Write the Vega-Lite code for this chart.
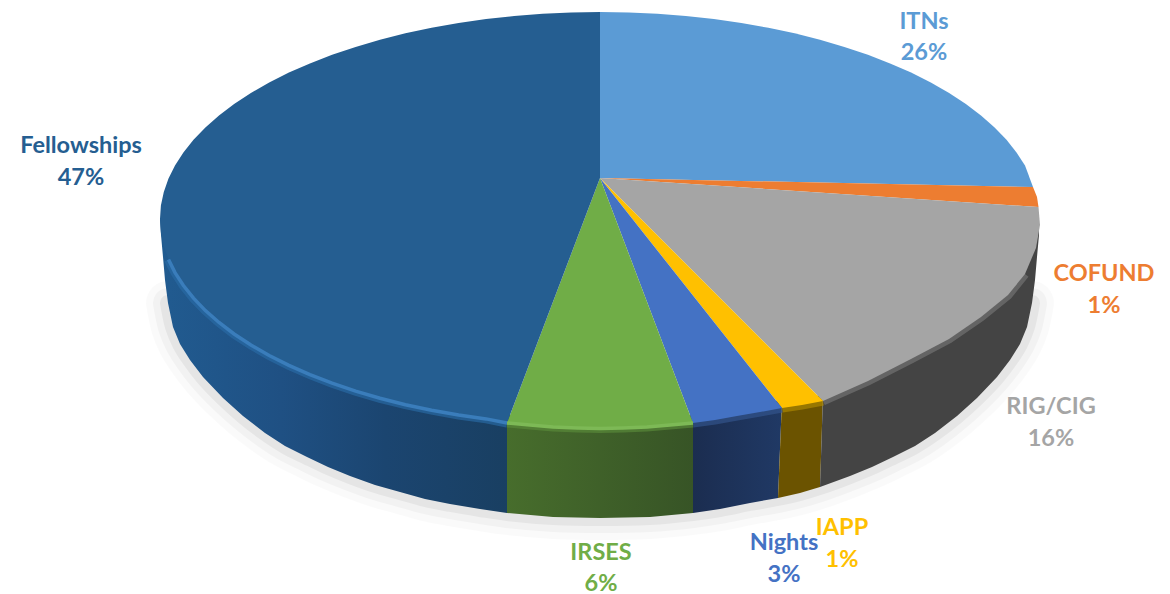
{"$schema":"https://vega.github.io/schema/vega-lite/v6.json","width":1170,"height":594,"autosize":"none","padding":0,"background":"white","view":{"stroke":null},
"datasets":{
"faces":[
{"slice":"ITNs","i":0,"x":600,"y":178},{"slice":"ITNs","i":1,"x":600,"y":12},{"slice":"ITNs","i":1.5,"x":628.8,"y":12.4},{"slice":"ITNs","i":2,"x":657.4,"y":13.8},{"slice":"ITNs","i":2.5,"x":685.8,"y":16},{"slice":"ITNs","i":3,"x":713.9,"y":19.1},{"slice":"ITNs","i":3.5,"x":741.4,"y":23},{"slice":"ITNs","i":4,"x":768.4,"y":27.8},{"slice":"ITNs","i":4.5,"x":794.6,"y":33.3},{"slice":"ITNs","i":5,"x":820,"y":39.7},{"slice":"ITNs","i":5.5,"x":844.4,"y":46.9},{"slice":"ITNs","i":6,"x":867.9,"y":54.8},{"slice":"ITNs","i":6.5,"x":890.1,"y":63.4},{"slice":"ITNs","i":7,"x":911.1,"y":72.6},{"slice":"ITNs","i":7.5,"x":930.8,"y":82.5},{"slice":"ITNs","i":8,"x":949.1,"y":93},{"slice":"ITNs","i":8.5,"x":965.9,"y":104},{"slice":"ITNs","i":9,"x":981,"y":115.5},{"slice":"ITNs","i":9.5,"x":994.6,"y":127.4},{"slice":"ITNs","i":10,"x":1006.5,"y":139.8},{"slice":"ITNs","i":10.5,"x":1016.5,"y":152.5},{"slice":"ITNs","i":11,"x":1025,"y":165.4},{"slice":"ITNs","i":12,"x":1033,"y":187},
{"slice":"COFUND","i":0,"x":600,"y":178},{"slice":"COFUND","i":1,"x":1033,"y":187},{"slice":"COFUND","i":2,"x":1037,"y":197},{"slice":"COFUND","i":3,"x":1038.5,"y":207},
{"slice":"RIG/CIG","i":0,"x":600,"y":178},{"slice":"RIG/CIG","i":1,"x":1038.5,"y":207},{"slice":"RIG/CIG","i":2,"x":1040,"y":225},{"slice":"RIG/CIG","i":3,"x":1036,"y":248},{"slice":"RIG/CIG","i":4,"x":1025,"y":274},{"slice":"RIG/CIG","i":5,"x":1008,"y":295},{"slice":"RIG/CIG","i":6,"x":981,"y":317},{"slice":"RIG/CIG","i":7,"x":949,"y":339},{"slice":"RIG/CIG","i":8,"x":911,"y":359},{"slice":"RIG/CIG","i":9,"x":868,"y":381},{"slice":"RIG/CIG","i":10,"x":823,"y":401},
{"slice":"IAPP","i":0,"x":600,"y":178},{"slice":"IAPP","i":1,"x":823,"y":401},{"slice":"IAPP","i":2,"x":802,"y":405},{"slice":"IAPP","i":3,"x":782,"y":408},
{"slice":"Nights","i":0,"x":600,"y":178},{"slice":"Nights","i":1,"x":782,"y":408},{"slice":"Nights","i":2,"x":760,"y":412},{"slice":"Nights","i":3,"x":737,"y":416},{"slice":"Nights","i":4,"x":715,"y":420},{"slice":"Nights","i":5,"x":693,"y":423},
{"slice":"IRSES","i":0,"x":600,"y":178},{"slice":"IRSES","i":1,"x":693,"y":423},{"slice":"IRSES","i":2,"x":670,"y":425},{"slice":"IRSES","i":3,"x":647,"y":427},{"slice":"IRSES","i":4,"x":623,"y":428},{"slice":"IRSES","i":5,"x":600,"y":428.5},{"slice":"IRSES","i":6,"x":577,"y":428},{"slice":"IRSES","i":7,"x":553,"y":427},{"slice":"IRSES","i":8,"x":530,"y":425},{"slice":"IRSES","i":9,"x":507,"y":423},
{"slice":"Fellowships","i":0,"x":600,"y":178},{"slice":"Fellowships","i":1,"x":507,"y":423},{"slice":"Fellowships","i":2,"x":486.1,"y":418.9},{"slice":"Fellowships","i":2.5,"x":458.6,"y":415},{"slice":"Fellowships","i":3,"x":431.6,"y":410.2},{"slice":"Fellowships","i":3.5,"x":405.4,"y":404.7},{"slice":"Fellowships","i":4,"x":380,"y":398.3},{"slice":"Fellowships","i":4.5,"x":355.6,"y":391.1},{"slice":"Fellowships","i":5,"x":332.1,"y":383.2},{"slice":"Fellowships","i":5.5,"x":309.9,"y":374.6},{"slice":"Fellowships","i":6,"x":288.9,"y":365.4},{"slice":"Fellowships","i":6.5,"x":269.2,"y":355.5},{"slice":"Fellowships","i":7,"x":250.9,"y":345},{"slice":"Fellowships","i":7.5,"x":234.1,"y":334},{"slice":"Fellowships","i":8,"x":219,"y":322.5},{"slice":"Fellowships","i":8.5,"x":205.4,"y":310.6},{"slice":"Fellowships","i":9,"x":193.5,"y":298.2},{"slice":"Fellowships","i":9.5,"x":183.4,"y":285.5},{"slice":"Fellowships","i":10,"x":175,"y":272.6},{"slice":"Fellowships","i":10.5,"x":168.5,"y":259.4},{"slice":"Fellowships","i":11,"x":163.8,"y":246},{"slice":"Fellowships","i":11.5,"x":160.9,"y":232.5},{"slice":"Fellowships","i":12,"x":160,"y":219},{"slice":"Fellowships","i":12.5,"x":160.9,"y":205.5},{"slice":"Fellowships","i":13,"x":163.8,"y":192},{"slice":"Fellowships","i":13.5,"x":168.5,"y":178.6},{"slice":"Fellowships","i":14,"x":175,"y":165.4},{"slice":"Fellowships","i":14.5,"x":183.4,"y":152.5},{"slice":"Fellowships","i":15,"x":193.5,"y":139.8},{"slice":"Fellowships","i":15.5,"x":205.4,"y":127.4},{"slice":"Fellowships","i":16,"x":219,"y":115.5},{"slice":"Fellowships","i":16.5,"x":234.1,"y":104},{"slice":"Fellowships","i":17,"x":250.9,"y":93},{"slice":"Fellowships","i":17.5,"x":269.2,"y":82.5},{"slice":"Fellowships","i":18,"x":288.9,"y":72.6},{"slice":"Fellowships","i":18.5,"x":309.9,"y":63.4},{"slice":"Fellowships","i":19,"x":332.1,"y":54.8},{"slice":"Fellowships","i":19.5,"x":355.6,"y":46.9},{"slice":"Fellowships","i":20,"x":380,"y":39.7},{"slice":"Fellowships","i":20.5,"x":405.4,"y":33.3},{"slice":"Fellowships","i":21,"x":431.6,"y":27.8},{"slice":"Fellowships","i":21.5,"x":458.6,"y":23},{"slice":"Fellowships","i":22,"x":486.1,"y":19.1},{"slice":"Fellowships","i":22.5,"x":514.2,"y":16},{"slice":"Fellowships","i":23,"x":542.6,"y":13.8},{"slice":"Fellowships","i":23.5,"x":571.2,"y":12.4},{"slice":"Fellowships","i":24,"x":600,"y":12}
],
"walls":[
{"slice":"Fellowships","i":0,"x":507,"y":415},{"slice":"Fellowships","i":1,"x":507,"y":513},{"slice":"Fellowships","i":2,"x":480,"y":509},{"slice":"Fellowships","i":3,"x":450,"y":504},{"slice":"Fellowships","i":4,"x":425,"y":499},{"slice":"Fellowships","i":5,"x":400,"y":492},{"slice":"Fellowships","i":6,"x":375,"y":485},{"slice":"Fellowships","i":7,"x":350,"y":476},{"slice":"Fellowships","i":8,"x":328,"y":467},{"slice":"Fellowships","i":9,"x":307,"y":457},{"slice":"Fellowships","i":10,"x":285,"y":446},{"slice":"Fellowships","i":11,"x":265,"y":433},{"slice":"Fellowships","i":12,"x":243,"y":416},{"slice":"Fellowships","i":13,"x":223,"y":398},{"slice":"Fellowships","i":14,"x":203,"y":377},{"slice":"Fellowships","i":15,"x":190,"y":360},{"slice":"Fellowships","i":16,"x":180,"y":344},{"slice":"Fellowships","i":17,"x":173,"y":327},{"slice":"Fellowships","i":18,"x":168,"y":303},{"slice":"Fellowships","i":19,"x":165,"y":280},{"slice":"Fellowships","i":20,"x":163,"y":257},{"slice":"Fellowships","i":21,"x":161,"y":235},{"slice":"Fellowships","i":22,"x":160,"y":219},{"slice":"Fellowships","i":23,"x":300,"y":250},
{"slice":"IRSES","i":0,"x":693,"y":415},{"slice":"IRSES","i":1,"x":693,"y":513},{"slice":"IRSES","i":2,"x":650,"y":517},{"slice":"IRSES","i":3,"x":600,"y":518},{"slice":"IRSES","i":4,"x":553,"y":517},{"slice":"IRSES","i":5,"x":507,"y":513},{"slice":"IRSES","i":6,"x":507,"y":415},
{"slice":"Nights","i":0,"x":782,"y":400},{"slice":"Nights","i":1,"x":778,"y":498},{"slice":"Nights","i":2,"x":750,"y":503},{"slice":"Nights","i":3,"x":720,"y":509},{"slice":"Nights","i":4,"x":693,"y":513},{"slice":"Nights","i":5,"x":693,"y":415},
{"slice":"IAPP","i":0,"x":823,"y":395},{"slice":"IAPP","i":1,"x":820,"y":487},{"slice":"IAPP","i":2,"x":800,"y":493},{"slice":"IAPP","i":3,"x":778,"y":498},{"slice":"IAPP","i":4,"x":782,"y":400},
{"slice":"RIG/CIG","i":0,"x":823,"y":395},{"slice":"RIG/CIG","i":1,"x":820,"y":487},{"slice":"RIG/CIG","i":2,"x":850,"y":476},{"slice":"RIG/CIG","i":3,"x":872,"y":467},{"slice":"RIG/CIG","i":4,"x":893,"y":457},{"slice":"RIG/CIG","i":5,"x":915,"y":446},{"slice":"RIG/CIG","i":6,"x":935,"y":433},{"slice":"RIG/CIG","i":7,"x":957,"y":416},{"slice":"RIG/CIG","i":8,"x":977,"y":398},{"slice":"RIG/CIG","i":9,"x":997,"y":377},{"slice":"RIG/CIG","i":10,"x":1010,"y":360},{"slice":"RIG/CIG","i":11,"x":1020,"y":344},{"slice":"RIG/CIG","i":12,"x":1027,"y":327},{"slice":"RIG/CIG","i":13,"x":1032,"y":303},{"slice":"RIG/CIG","i":14,"x":1035,"y":280},{"slice":"RIG/CIG","i":15,"x":1037,"y":257},{"slice":"RIG/CIG","i":16,"x":1039,"y":235},{"slice":"RIG/CIG","i":17,"x":1039,"y":215},{"slice":"RIG/CIG","i":18,"x":900,"y":250}
],
"edge":[
{"i":4,"x":168,"y":303},{"i":5,"x":173,"y":327},{"i":6,"x":180,"y":344},{"i":7,"x":190,"y":360},{"i":8,"x":203,"y":377},{"i":9,"x":223,"y":398},{"i":10,"x":243,"y":416},{"i":11,"x":265,"y":433},{"i":12,"x":285,"y":446},{"i":13,"x":307,"y":457},{"i":14,"x":328,"y":467},{"i":15,"x":350,"y":476},{"i":16,"x":375,"y":485},{"i":17,"x":400,"y":492},{"i":18,"x":425,"y":499},{"i":19,"x":450,"y":504},{"i":20,"x":480,"y":509},{"i":21,"x":507,"y":513},{"i":22,"x":553,"y":517},{"i":23,"x":600,"y":518},{"i":24,"x":650,"y":517},{"i":25,"x":693,"y":513},{"i":26,"x":720,"y":509},{"i":27,"x":750,"y":503},{"i":28,"x":778,"y":498},{"i":29,"x":800,"y":493},{"i":30,"x":820,"y":487},{"i":31,"x":850,"y":476},{"i":32,"x":872,"y":467},{"i":33,"x":893,"y":457},{"i":34,"x":915,"y":446},{"i":35,"x":935,"y":433},{"i":36,"x":957,"y":416},{"i":37,"x":977,"y":398},{"i":38,"x":997,"y":377},{"i":39,"x":1010,"y":360},{"i":40,"x":1020,"y":344},{"i":41,"x":1027,"y":327},{"i":42,"x":1032,"y":303}
],
"labels":[
{"slice":"ITNs","share":0.26,"x":924,"nameY":29,"shareY":60},
{"slice":"Fellowships","share":0.47,"x":81,"nameY":153,"shareY":185},
{"slice":"COFUND","share":0.01,"x":1104,"nameY":281,"shareY":313},
{"slice":"RIG/CIG","share":0.16,"x":1051,"nameY":414,"shareY":446},
{"slice":"IRSES","share":0.06,"x":601,"nameY":560,"shareY":591},
{"slice":"Nights","share":0.03,"x":784,"nameY":550,"shareY":582},
{"slice":"IAPP","share":0.01,"x":842,"nameY":535,"shareY":567}
]},
"encoding":{"x":{"field":"x","type":"quantitative","scale":{"domain":[0,1170]},"axis":null},"y":{"field":"y","type":"quantitative","scale":{"domain":[594,0]},"axis":null}},
"layer":[
{"data":{"name":"edge"},"mark":{"type":"line","stroke":"#000000","strokeWidth":44,"opacity":0.018,"strokeCap":"round","interpolate":"catmull-rom"},"encoding":{"order":{"field":"i"}}},
{"data":{"name":"edge"},"mark":{"type":"line","stroke":"#000000","strokeWidth":30,"opacity":0.03,"strokeCap":"round","interpolate":"catmull-rom"},"encoding":{"order":{"field":"i"}}},
{"data":{"name":"edge"},"mark":{"type":"line","stroke":"#000000","strokeWidth":16,"opacity":0.05,"strokeCap":"round","interpolate":"catmull-rom"},"encoding":{"order":{"field":"i"}}},
{"data":{"name":"walls"},"transform":[{"filter":"datum.slice=='Fellowships'"}],"mark":{"type":"line","stroke":null,"fill":{"gradient":"linear","x1":0,"x2":1,"y1":0,"y2":0,"stops":[{"offset":0,"color":"#215B90"},{"offset":0.35,"color":"#1F5083"},{"offset":0.65,"color":"#1B4570"},{"offset":1,"color":"#193F62"}]}},"encoding":{"order":{"field":"i"}}},
{"data":{"name":"walls"},"transform":[{"filter":"datum.slice=='IRSES'"}],"mark":{"type":"line","stroke":null,"fill":{"gradient":"linear","x1":0,"x2":1,"y1":0,"y2":0,"stops":[{"offset":0,"color":"#476D2C"},{"offset":1,"color":"#375426"}]}},"encoding":{"order":{"field":"i"}}},
{"data":{"name":"walls"},"transform":[{"filter":"datum.slice=='Nights'"}],"mark":{"type":"line","stroke":null,"fill":{"gradient":"linear","x1":0,"x2":1,"y1":0,"y2":0,"stops":[{"offset":0,"color":"#1B2D50"},{"offset":1,"color":"#203965"}]}},"encoding":{"order":{"field":"i"}}},
{"data":{"name":"walls"},"transform":[{"filter":"datum.slice=='IAPP'"}],"mark":{"type":"line","stroke":null,"fill":"#6B5300"},"encoding":{"order":{"field":"i"}}},
{"data":{"name":"walls"},"transform":[{"filter":"datum.slice=='RIG/CIG'"}],"mark":{"type":"line","stroke":null,"fill":"#444444"},"encoding":{"order":{"field":"i"}}},
{"data":{"name":"faces"},"transform":[{"filter":"datum.i>=1 && datum.y>252 && datum.slice!='ITNs' && datum.slice!='COFUND'"}],"mark":{"type":"line","strokeWidth":9,"opacity":0.65,"strokeCap":"butt"},"encoding":{"order":{"field":"i"},"stroke":{"field":"slice","type":"nominal","legend":null,"scale":{"domain":["RIG/CIG","IAPP","Nights","IRSES","Fellowships"],"range":["#777777","#B08A00","#34568F","#5B8C3A","#2A6CA6"]}}}},
{"data":{"name":"faces"},"mark":{"type":"line","stroke":null},"encoding":{"order":{"field":"i"},"fill":{"field":"slice","type":"nominal","legend":null,"scale":{"domain":["ITNs","COFUND","RIG/CIG","IAPP","Nights","IRSES","Fellowships"],"range":["#5B9BD5","#ED7D31","#A5A5A5","#FFC000","#4472C4","#70AD47","#255E91"]}}}},
{"data":{"name":"faces"},"transform":[{"filter":"datum.i>=1 && datum.y>252 && datum.slice=='Fellowships'"}],"mark":{"type":"line","stroke":"#3A7DBB","strokeWidth":3.5,"strokeCap":"butt"},"encoding":{"order":{"field":"i"}}},
{"data":{"name":"faces"},"transform":[{"filter":"datum.i>=1 && datum.slice=='IRSES'"}],"mark":{"type":"line","stroke":"#7DB956","strokeWidth":3.5,"strokeCap":"butt"},"encoding":{"order":{"field":"i"}}},
{"data":{"name":"labels"},"mark":{"type":"text","font":"Lato","fontWeight":"bold","fontSize":23.5,"align":"center","baseline":"alphabetic"},"encoding":{"y":{"field":"nameY","type":"quantitative"},"text":{"field":"slice"},"color":{"field":"slice","type":"nominal","legend":null,"scale":{"domain":["ITNs","COFUND","RIG/CIG","IAPP","Nights","IRSES","Fellowships"],"range":["#5B9BD5","#ED7D31","#A5A5A5","#FFC000","#4472C4","#70AD47","#255E91"]}}}},
{"data":{"name":"labels"},"mark":{"type":"text","font":"Lato","fontWeight":"bold","fontSize":23.5,"align":"center","baseline":"alphabetic"},"encoding":{"y":{"field":"shareY","type":"quantitative"},"text":{"field":"share","type":"quantitative","format":".0%"},"color":{"field":"slice","type":"nominal","legend":null,"scale":{"domain":["ITNs","COFUND","RIG/CIG","IAPP","Nights","IRSES","Fellowships"],"range":["#5B9BD5","#ED7D31","#A5A5A5","#FFC000","#4472C4","#70AD47","#255E91"]}}}}
]}
